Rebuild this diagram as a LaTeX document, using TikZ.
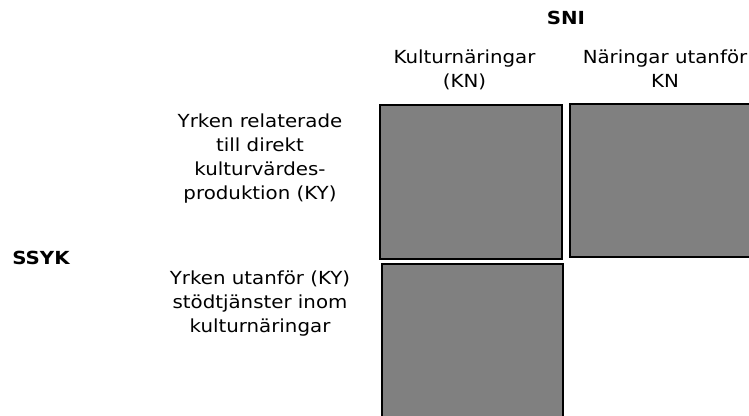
\documentclass[tikz,border=0pt]{standalone}
\usepackage{fontspec}
\setmainfont{DejaVu Sans}[FakeStretch=1.1]

\tikzset{
  cell/.style={draw=black, fill=gray, line width=2pt, inner sep=0pt, anchor=north west},
  rubrik/.style={font=\fontsize{18}{24}\selectfont\bfseries},
  etikett/.style={align=center, inner sep=0pt},
}

\begin{document}
\begin{tikzpicture}[x=1pt, y=-1pt, font=\fontsize{18}{24}\selectfont]
      \useasboundingbox (0,0) rectangle (749,415);

      % rubriker
      \node[rubrik] (sni) at (566,18) {SNI};
      \node[rubrik] (ssyk) at (41,258) {SSYK};

      % kolumner och rader
      \node[etikett] (kn) at (464.5,70) {Kulturnäringar\\(KN)};
      \node[etikett] (ejkn) at (665,69) {Näringar utanför\\KN};
      \node[etikett] (ky) at (260,159) {Yrken relaterade\\till direkt\\kulturvärdes-\\produktion (KY)};
      \node[etikett] (ejky) at (260,304) {Yrken utanför (KY)\\stödtjänster inom\\kulturnäringar};

      % celler
      \node[cell, minimum width=182pt, minimum height=154pt] (knky) at (379,104) {};
      \node[cell, minimum width=200pt, minimum height=153pt] (ejknky) at (569,103) {};
      \node[cell, minimum width=181pt, minimum height=170pt] (knejky) at (381,263) {};
    \end{tikzpicture}
\end{document}
